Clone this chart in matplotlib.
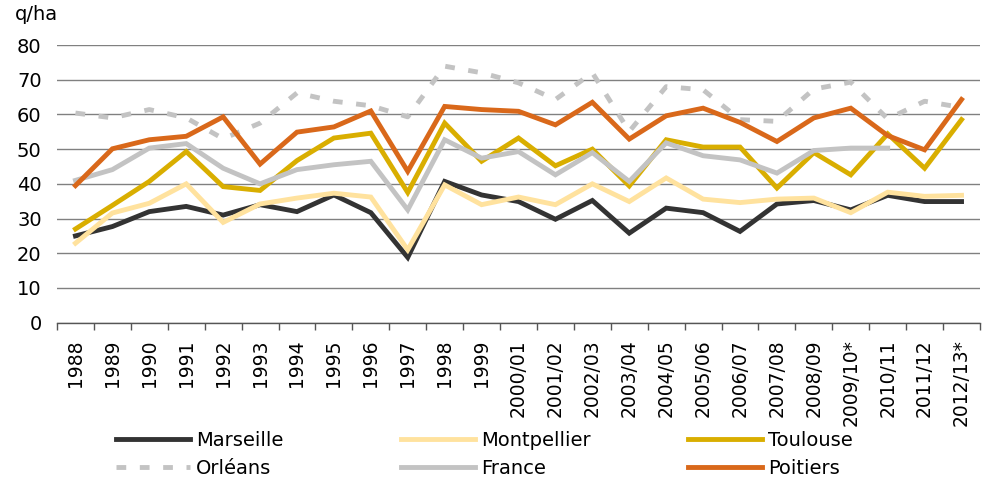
import matplotlib
matplotlib.use("Agg")
import matplotlib.pyplot as plt
import numpy as np
from matplotlib.ticker import FixedLocator

categories = ['1988', '1989', '1990', '1991', '1992', '1993', '1994', '1995', '1996',
              '1997', '1998', '1999', '2000/01', '2001/02', '2002/03', '2003/04',
              '2004/05', '2005/06', '2006/07', '2007/08', '2008/09', '2009/10*',
              '2010/11', '2011/12', '2012/13*']

marseille = [25.0, 27.7, 32.0, 33.5, 31.0, 34.0, 32.0, 36.8, 31.7, 18.8, 40.7, 36.8, 34.9,
             29.8, 35.2, 25.8, 33.0, 31.7, 26.3, 34.2, 35.2, 32.5, 36.7, 34.9, 34.9]
montpellier = [22.9, 31.6, 34.4, 40.0, 28.9, 34.2, 35.9, 37.3, 36.2, 21.0, 39.7, 34.0, 36.2,
               34.0, 40.0, 34.9, 41.7, 35.6, 34.6, 35.6, 35.9, 31.7, 37.6, 36.4, 36.7]
toulouse = [27.0, 33.8, 40.7, 49.3, 39.2, 38.1, 46.7, 53.2, 54.6, 37.5, 57.5, 46.5, 53.2,
            45.2, 50.0, 39.4, 52.7, 50.6, 50.6, 38.8, 49.0, 42.6, 54.4, 44.5, 58.5]
orleans = [60.4, 59.0, 61.4, 59.0, 53.0, 57.5, 66.2, 63.8, 62.5, 59.3, 73.9, 72.0, 69.1,
           64.3, 72.0, 55.1, 68.0, 67.1, 58.5, 58.0, 67.3, 69.3, 58.7, 63.8, 62.0]
france = [41.0, 44.1, 50.3, 51.6, 44.5, 40.0, 44.1, 45.5, 46.5, 32.5, 52.7, 47.4, 49.3,
          42.6, 49.0, 40.7, 51.8, 48.1, 46.9, 43.1, 49.6, 50.3, 50.3, np.nan, np.nan]
poitiers = [39.5, 50.1, 52.7, 53.7, 59.3, 45.7, 54.9, 56.4, 61.0, 43.6, 62.3, 61.4, 60.9,
            57.0, 63.5, 52.9, 59.6, 61.8, 57.7, 52.2, 59.0, 61.8, 53.9, 49.8, 64.3]

y_ticks = [0, 10, 20, 30, 40, 50, 60, 70, 80]
unit_label = 'q/ha'

plt.rcParams['font.family'] = ['DejaVu Sans']

fig = plt.figure(figsize=(9.85, 4.83), dpi=100)
W, H = 985, 483
ax = fig.add_axes([57 / W, 1 - 322.7 / H, (980 - 57) / W, (322.7 - 45) / H])

x = np.arange(len(categories))
lw = 3.5
series = [
    ('Marseille', marseille, '#333333', '-'),
    ('Montpellier', montpellier, '#FFE29E', '-'),
    ('Toulouse', toulouse, '#D9AE00', '-'),
    ('Orléans', orleans, '#C3C3C3', '--'),
    ('France', france, '#C3C3C3', '-'),
    ('Poitiers', poitiers, '#D9681A', '-'),
]
handles = {}
for name, vals, col, ls in series:
    if ls == '--':
        ln, = ax.plot(x, vals, color=col, lw=lw, dashes=(2.0, 2.8), label=name,
                      solid_joinstyle='miter', dash_capstyle='butt')
    else:
        ln, = ax.plot(x, vals, color=col, lw=lw, label=name, solid_joinstyle='miter')
    handles[name] = ln

ax.set_xlim(-0.5, len(categories) - 0.5)
ax.set_ylim(0, 80)
ax.set_yticks(y_ticks)
ax.set_yticklabels([str(v) for v in y_ticks], fontsize=14)
ax.yaxis.grid(True, color='#808080', lw=1.0)
ax.set_axisbelow(True)
ax.tick_params(axis='y', length=0, pad=11)

ax.set_xticks(x)
ax.set_xticklabels(categories, rotation=90, fontsize=13.5, va='top', ha='center')
ax.tick_params(axis='x', which='major', length=0, pad=12)
ax.xaxis.set_minor_locator(FixedLocator(np.arange(-0.5, len(categories), 1.0)))
ax.tick_params(axis='x', which='minor', length=5, width=1, color='#555555', direction='out')

for s in ['left', 'right', 'top']:
    ax.spines[s].set_visible(False)
ax.spines['bottom'].set_color('#555555')
ax.spines['bottom'].set_linewidth(1.0)

fig.text(15 / W, 1 - 14 / H, unit_label, fontsize=14, va='center', ha='left')

leg_font = {'family': ['DejaVu Sans Condensed', 'DejaVu Sans'], 'size': 14}
cols = [(116, ['Marseille', 'Orléans']), (401, ['Montpellier', 'France']),
        (688, ['Toulouse', 'Poitiers'])]
for xpos, names in cols:
    leg = fig.legend([handles[n] for n in names], names, loc='upper left',
                     bbox_to_anchor=(xpos / W, 1 - 431 / H), frameon=False,
                     borderpad=0, borderaxespad=0, handlelength=3.8,
                     handletextpad=0.3, labelspacing=0.45, prop=leg_font)

fig.savefig('out.png', dpi=100)
